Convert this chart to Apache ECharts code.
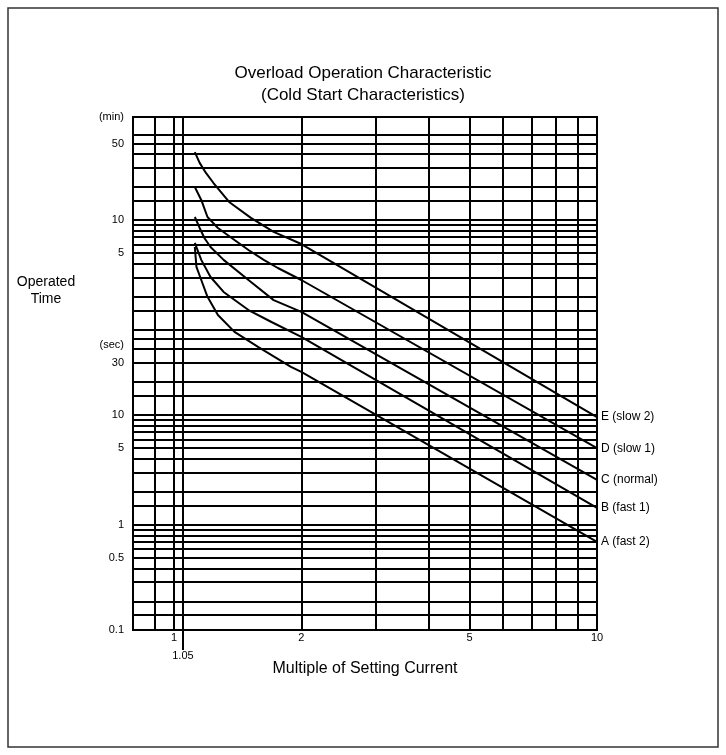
<!DOCTYPE html>
<html>
<head>
<meta charset="utf-8">
<script src="https://cdn.jsdelivr.net/npm/echarts@6/dist/echarts.min.js"></script>
<style>
  html, body { margin: 0; padding: 0; background: #fff; }
  #chart { width: 726px; height: 755px; }
</style>
</head>
<body>
<div id="chart"></div>
<script>
// x = multiple of setting current, y = operated time in seconds
const curveNames = ['E (slow 2)', 'D (slow 1)', 'C (normal)', 'B (fast 1)', 'A (fast 2)'];
const curveE_x = [1.12, 1.15, 1.19, 1.24, 1.35, 1.52, 1.72, 2, 10];
const curveE_y = [2510, 2000, 1620, 1310, 880, 630, 470, 364, 9.6];
const curveD_x = [1.12, 1.16, 1.2, 1.27, 1.39, 1.5, 1.63, 1.76, 2, 10];
const curveD_y = [1205, 918, 642, 510, 396, 321, 261, 220, 171, 5.0];
const curveC_x = [1.12, 1.15, 1.18, 1.22, 1.31, 1.5, 1.72, 2, 10];
const curveC_y = [642, 510, 413, 342, 261, 171, 112, 87.5, 2.57];
const curveB_x = [1.12, 1.16, 1.22, 1.31, 1.5, 1.7, 2, 10];
const curveB_y = [372, 261, 182, 133, 91, 70.8, 51.8, 1.43];
const curveA_x = [1.12, 1.13, 1.16, 1.2, 1.27, 1.39, 1.58, 1.89, 2, 10];
const curveA_y = [342, 225, 171, 120, 82, 57.5, 42, 27.6, 24.8, 0.70];

// graph paper lines
const xGrid = [0.9, 1, 1.05, 2, 3, 4, 5, 6, 7, 8, 9];
const yGrid = [0.15, 0.2, 0.3, 0.4, 0.5, 0.6, 0.7, 0.8, 0.9, 1, 1.5, 2, 3, 4, 5, 6, 7, 8, 9,
  10, 15, 20, 30, 40, 50, 60, 90, 120, 180, 240, 300, 360, 420, 480, 540, 600,
  900, 1200, 1800, 2400, 3000, 3600];

// tick labels
const xLabelValues = [1, 2, 5, 10];
const yLabelValues = [5239, 3000, 600, 300, 44, 30, 10, 5, 1, 0.5, 0.1101];
const yLabelTexts = ['(min)', '50', '10', '5', '(sec)', '30', '10', '5', '1', '0.5', '0.1'];

const font = "'Liberation Sans', Arial, sans-serif";

function nearestLabel(v) {
  let best = 0, d = Infinity;
  yLabelValues.forEach((lv, i) => {
    const dd = Math.abs(Math.log(lv) - Math.log(v));
    if (dd < d) { d = dd; best = i; }
  });
  return yLabelTexts[best];
}

const curves = [[curveE_x, curveE_y], [curveD_x, curveD_y], [curveC_x, curveC_y],
  [curveB_x, curveB_y], [curveA_x, curveA_y]];

const series = [{
  type: 'line',
  data: [],
  silent: true,
  markLine: {
    silent: true,
    symbol: ['none', 'none'],
    label: { show: false },
    lineStyle: { color: '#000', width: 2, type: 'solid' },
    emphasis: { disabled: true },
    data: xGrid.map(v => ({ xAxis: v })).concat(yGrid.map(v => ({ yAxis: v })))
  }
}];

curves.forEach((c, i) => {
  series.push({
    name: curveNames[i],
    type: 'line',
    data: c[0].map((x, j) => [x, c[1][j]]),
    showSymbol: false,
    smooth: false,
    lineStyle: { color: '#000', width: 2 },
    endLabel: {
      show: true,
      formatter: curveNames[i],
      color: '#000',
      fontSize: 12,
      fontFamily: font,
      distance: 4
    }
  });
});

const chart = echarts.init(document.getElementById('chart'));
chart.setOption({
  animation: false,
  backgroundColor: '#fff',
  title: {
    text: 'Overload Operation Characteristic\n(Cold Start Characteristics)',
    left: 'center',
    top: 57,
    textStyle: { fontSize: 17, fontWeight: 'normal', lineHeight: 22, color: '#000', fontFamily: font }
  },
  grid: {
    left: 133, right: 129, top: 117, bottom: 125,
    show: true, borderColor: '#000', borderWidth: 2
  },
  xAxis: [{
    type: 'log',
    min: 0.8,
    max: 10,
    axisLine: { show: false },
    axisTick: { show: false },
    splitLine: { show: false },
    axisLabel: {
      customValues: xLabelValues,
      formatter: v => String(Math.round(v)),
      margin: 2,
      fontSize: 11,
      color: '#000',
      fontFamily: font
    },
    name: 'Multiple of Setting Current',
    nameLocation: 'middle',
    nameGap: 31,
    nameTextStyle: { fontSize: 16, color: '#000', fontFamily: font }
  }, {
    type: 'log',
    min: 0.8,
    max: 10,
    position: 'bottom',
    axisLine: { show: false },
    splitLine: { show: false },
    axisTick: { show: true, customValues: [1.05], length: 20, lineStyle: { color: '#000', width: 2 } },
    axisLabel: {
      customValues: [1.05],
      formatter: () => '1.05',
      margin: 20,
      fontSize: 11,
      color: '#000',
      fontFamily: font
    }
  }],
  yAxis: {
    type: 'log',
    min: 0.11,
    max: 5240,
    axisLine: { show: false },
    axisTick: { show: false },
    splitLine: { show: false },
    axisLabel: {
      customValues: yLabelValues,
      formatter: v => nearestLabel(v),
      margin: 9,
      fontSize: 11,
      color: '#000',
      fontFamily: font
    }
  },
  graphic: [{
    type: 'rect',
    shape: { x: 8, y: 8, width: 710, height: 739 },
    style: { fill: 'none', stroke: '#333', lineWidth: 1.5 },
    silent: true
  }, {
    type: 'text',
    x: 46,
    y: 291,
    style: {
      text: 'Operated\nTime',
      fontSize: 14,
      lineHeight: 17,
      fontFamily: font,
      fill: '#000',
      align: 'center',
      verticalAlign: 'middle'
    },
    silent: true
  }],
  series: series
});
</script>
</body>
</html>
